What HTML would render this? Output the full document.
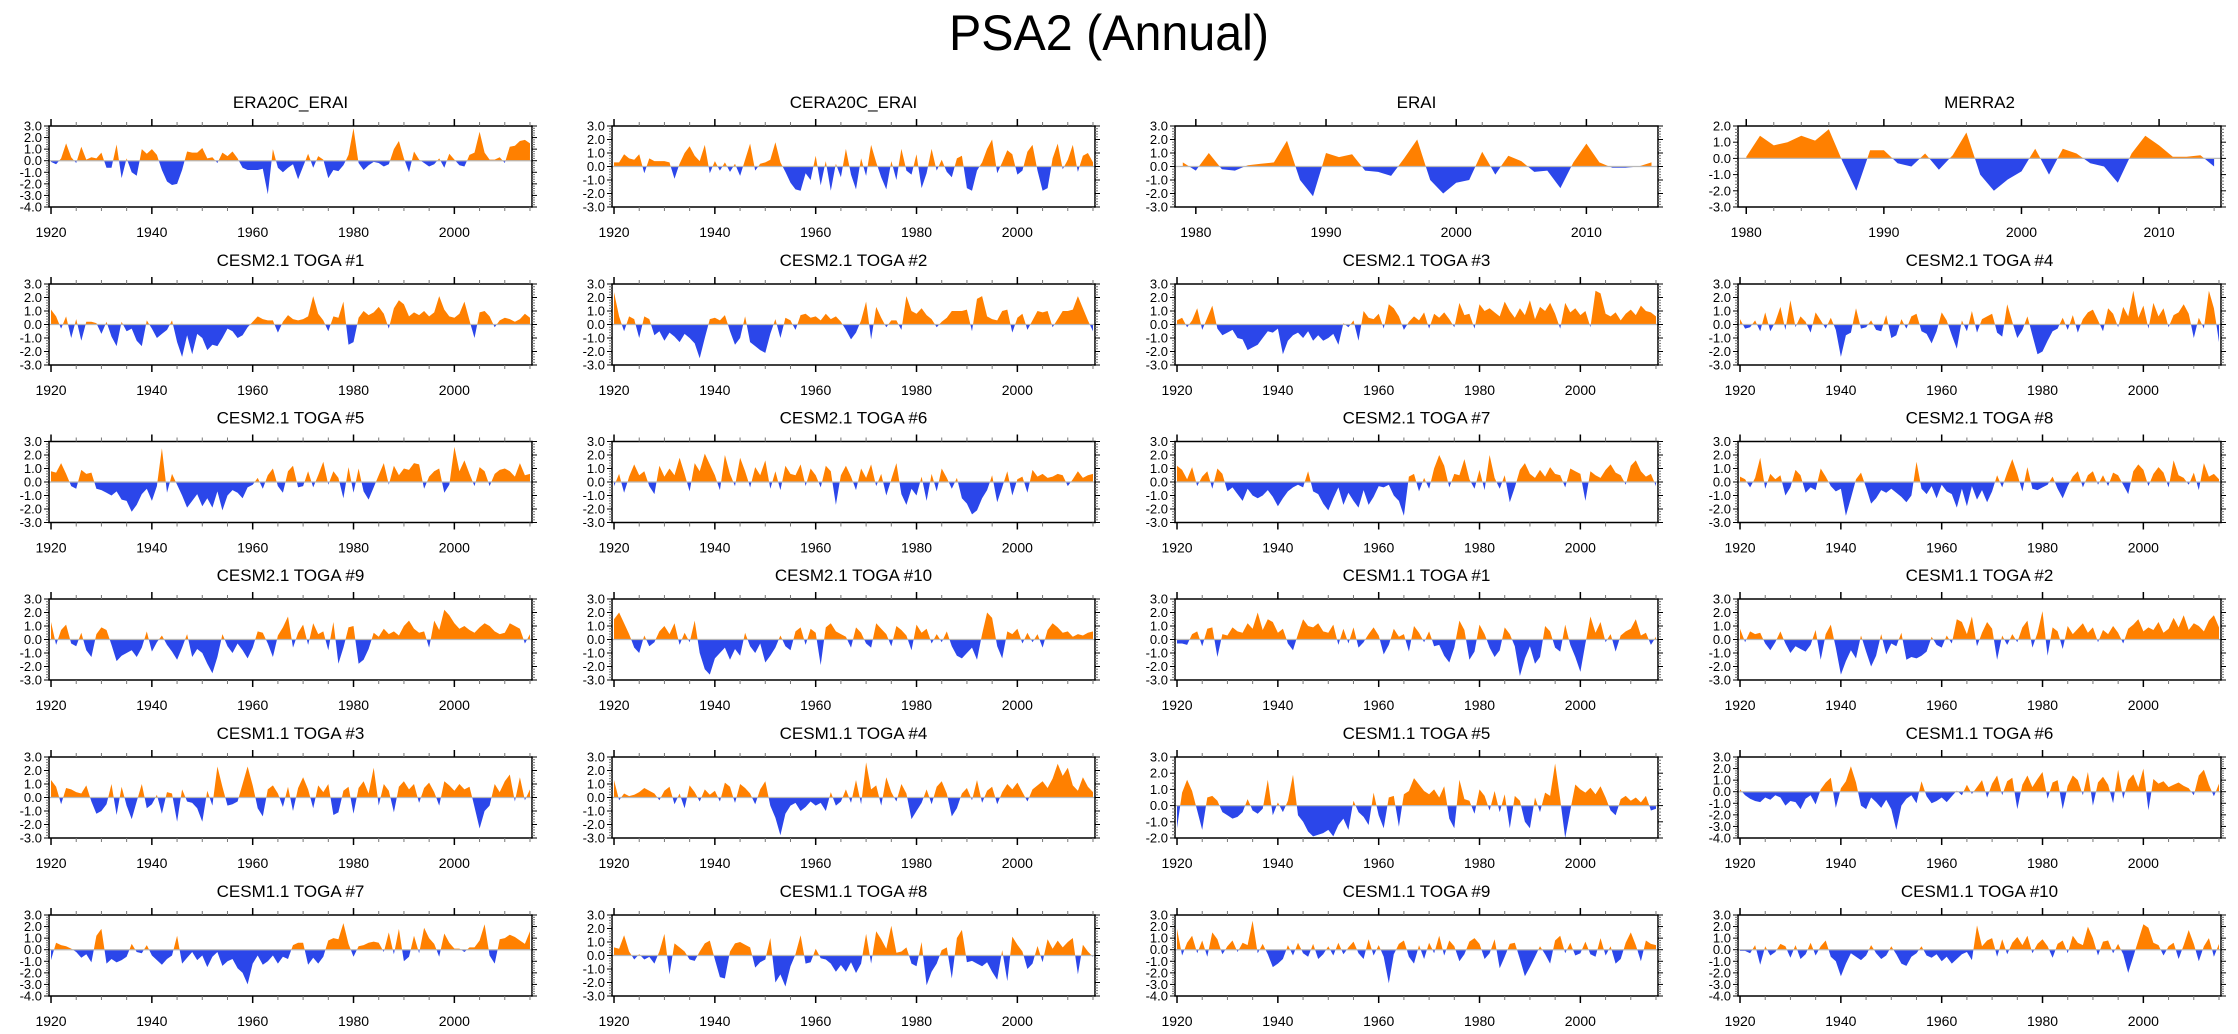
<!DOCTYPE html>
<html><head><meta charset="utf-8"><title>PSA2 (Annual)</title>
<style>
html,body{margin:0;padding:0;background:#fff;}
svg{display:block;font-family:"Liberation Sans",sans-serif;}
</style></head>
<body>
<svg id="chart" width="2238" height="1034" viewBox="0 0 2238 1034" xmlns="http://www.w3.org/2000/svg">
<text x="1109" y="50" font-size="50" text-anchor="middle" textLength="320" lengthAdjust="spacingAndGlyphs">PSA2 (Annual)</text>
</svg>
<script>
const titles = ["ERA20C_ERAI","CERA20C_ERAI","ERAI","MERRA2",
"CESM2.1 TOGA #1","CESM2.1 TOGA #2","CESM2.1 TOGA #3","CESM2.1 TOGA #4",
"CESM2.1 TOGA #5","CESM2.1 TOGA #6","CESM2.1 TOGA #7","CESM2.1 TOGA #8",
"CESM2.1 TOGA #9","CESM2.1 TOGA #10","CESM1.1 TOGA #1","CESM1.1 TOGA #2",
"CESM1.1 TOGA #3","CESM1.1 TOGA #4","CESM1.1 TOGA #5","CESM1.1 TOGA #6",
"CESM1.1 TOGA #7","CESM1.1 TOGA #8","CESM1.1 TOGA #9","CESM1.1 TOGA #10"];
const startYears = [1920,1920,1979,1980, 1920,1920,1920,1920, 1920,1920,1920,1920, 1920,1920,1920,1920, 1920,1920,1920,1920, 1920,1920,1920,1920];
const yMins = [-4,-3,-3,-3, -3,-3,-3,-3, -3,-3,-3,-3, -3,-3,-3,-3, -3,-3,-2,-4, -4,-3,-4,-4];
const yMaxs = [3,3,3,2, 3,3,3,3, 3,3,3,3, 3,3,3,3, 3,3,3,3, 3,3,3,3];

const s0 = [-0.1,-0.3,0.2,1.5,0.3,-0.2,1.2,0.1,0.3,0.2, 0.7,-0.6,-0.6,1.4,-1.5,0.2,-1.0,-1.3,1.0,0.6, 1.0,0.5,-0.8,-1.8,-2.1,-2.0,-0.8,0.8,0.7,0.7, 1.1,0.2,0.3,-0.2,0.7,0.4,0.8,0.2,-0.6,-0.8, -0.8,-0.8,-0.7,-2.9,1.0,-0.6,-1.0,-0.6,-0.3,-1.6, -0.5,0.6,-0.6,0.4,0.1,-1.5,-0.8,-0.9,-0.4,0.5, 2.8,-0.2,-0.8,-0.4,-0.1,-0.2,-0.5,-0.3,1.0,1.7, 0.2,-1.0,0.8,0.1,-0.2,-0.5,-0.3,0.2,-0.6,0.6, 0.1,-0.4,-0.5,0.5,0.7,2.5,0.7,0.1,0.1,0.3, -0.2,1.2,1.3,1.7,1.8,1.5];
const s1 = [0.3,0.3,0.9,0.6,0.5,0.9,-0.5,0.6,0.4,0.4, 0.4,0.3,-0.9,0.2,1.0,1.5,0.8,0.4,1.6,-0.5, 0.4,-0.3,0.3,-0.4,0.2,-0.7,0.5,1.7,-0.3,0.2, 0.3,0.5,1.8,0.3,-0.4,-1.2,-1.7,-1.8,-0.5,-1.0, 0.8,-1.4,0.4,-1.8,0.2,-0.8,1.3,-0.6,-1.7,0.6, -0.7,1.6,0.3,-0.8,-1.7,0.4,-1.0,1.3,-0.3,-0.6, 0.9,-1.6,-0.5,1.3,-0.3,0.5,-0.4,-0.8,0.6,0.8, -1.6,-1.8,-0.3,0.3,1.3,2.0,-0.5,0.3,1.2,0.9, -0.6,-0.3,1.1,1.6,-0.3,-1.8,-1.6,0.6,1.7,-0.2, 0.5,1.6,-0.4,0.8,1.0,0.3];
const s2 = [0.3,-0.3,1.0,-0.2,-0.3,0.1,0.2,0.3,1.9,-1.0, -2.2,1.0,0.7,0.9,-0.3,-0.4,-0.7,0.6,2.0,-1.0, -2.0,-1.2,-1.0,1.1,-0.6,0.8,0.4,-0.4,-0.3,-1.6, 0.3,1.7,0.3,-0.1,-0.1,0.0,0.3];
const s3 = [0.1,1.4,0.8,1.0,1.4,1.1,1.8,-0.2,-2.0,0.5, 0.5,-0.3,-0.5,0.3,-0.7,0.2,1.6,-1.0,-2.0,-1.3, -0.8,0.6,-1.0,0.6,0.3,-0.3,-0.5,-1.5,0.3,1.4, 0.8,0.1,0.1,0.2,-0.5];
const s4 = [1.1,0.6,-0.3,0.6,-1.0,0.4,-1.2,0.2,0.2,0.1, -0.7,0.2,-0.9,-1.6,0.2,-0.5,-0.3,-1.2,-1.6,0.3, -0.3,-1.0,-0.7,-0.4,0.3,-1.3,-2.4,-0.8,-2.2,-0.7, -1.0,-1.9,-1.5,-1.6,-1.0,-0.3,-0.5,-1.0,-0.8,-0.2, 0.2,0.6,0.4,0.3,0.3,-0.6,0.2,0.7,0.4,0.3, 0.4,0.6,2.1,0.8,0.3,-0.5,0.6,0.5,1.7,-1.5, -1.3,0.5,1.0,0.7,0.9,1.3,0.8,-0.3,1.2,1.8, 1.5,0.6,0.9,0.7,1.0,0.6,0.9,2.1,1.1,0.6, 0.5,0.8,1.7,0.3,-1.0,0.9,1.0,0.6,-0.2,0.3, 0.5,0.4,0.2,0.4,0.8,0.5];
const s5 = [2.4,0.6,-0.5,0.6,0.4,-1.0,0.6,0.4,-0.8,-0.5, -1.2,-0.6,-0.9,-1.3,-0.7,-1.0,-1.4,-2.5,-1.0,0.4, 0.5,0.3,0.7,-0.5,-1.5,-1.0,0.6,-1.3,-1.6,-1.9, -2.1,-0.7,0.4,-1.0,0.5,0.3,-0.4,0.7,0.8,0.5, 0.6,0.3,0.8,0.4,0.6,0.2,-0.4,-1.1,-0.6,0.3, 1.7,-1.1,1.3,0.5,-0.2,0.3,0.3,-0.4,2.1,1.0, 0.8,1.2,0.7,0.4,-0.2,0.2,0.5,1.0,1.0,1.0, 1.1,-0.5,1.9,2.1,0.6,0.4,0.3,1.0,1.1,-0.6, 0.5,0.8,-0.4,0.3,1.0,0.9,1.0,-0.2,0.4,1.0, 1.0,1.1,2.1,1.2,0.3,-0.5];
const s6 = [0.3,0.5,-0.2,0.3,1.2,-0.4,0.5,1.4,-0.3,-0.8, -0.6,-0.4,-1.0,-1.1,-1.9,-1.7,-1.5,-1.0,-0.5,-0.6, -0.3,-2.2,-1.2,-0.8,-0.6,-1.0,-0.5,-1.2,-0.8,-1.2, -1.0,-0.7,-1.5,0.1,-0.2,0.3,-1.2,1.0,0.5,0.4, 0.8,-0.3,1.5,1.2,0.6,-0.4,0.2,0.6,0.3,0.9, -0.3,0.8,0.5,0.9,0.4,-0.2,1.6,0.7,0.8,-0.3, 1.5,1.0,1.2,0.9,0.6,1.7,1.0,0.5,1.2,0.7, 1.8,0.4,1.3,1.0,1.6,0.8,-0.3,1.6,0.9,1.2, 0.7,1.0,-0.2,2.5,2.3,0.8,0.6,0.9,0.3,0.8, 1.1,0.7,1.4,1.0,0.9,0.6];
const s7 = [0.4,-0.3,-0.2,0.3,-0.5,0.9,-0.5,0.2,1.3,-0.4, 1.8,-0.2,0.6,0.2,-0.6,0.9,0.3,-0.3,0.5,-0.4, -2.4,-0.8,-0.6,1.2,-0.3,-0.2,0.3,-0.4,-0.5,0.7, -1.0,-0.8,0.4,-0.3,0.6,0.8,-0.5,-0.7,-1.4,-0.5, 0.9,0.3,-0.8,-1.8,0.3,-0.5,1.0,-0.6,0.4,0.6, 0.8,-0.6,-0.9,1.5,0.2,-1.0,-0.4,0.6,-0.8,-2.2, -2.0,-1.2,-0.5,-0.3,0.5,-0.4,0.7,-0.6,0.4,0.9, 1.1,0.3,-0.5,1.2,0.8,-0.2,1.3,0.6,2.5,0.5, 1.4,-0.3,1.6,0.6,1.2,-0.2,0.7,0.9,1.5,0.8, -1.0,0.5,-0.3,2.5,1.2,-1.3];
const s8 = [0.8,0.7,1.4,0.6,-0.3,-0.5,0.9,0.6,0.7,-0.5, -0.6,-0.8,-1.0,-0.7,-1.3,-1.4,-2.2,-1.7,-0.9,-0.5, -1.4,-0.3,2.5,-0.8,0.6,-0.2,-1.0,-1.9,-1.4,-0.9, -1.8,-1.2,-1.9,-0.7,-2.1,-1.0,-0.6,-0.8,-1.2,-0.4, -0.2,0.3,-0.5,0.5,1.0,-0.3,-0.8,0.8,1.2,-0.4, -0.3,0.8,-0.4,0.5,1.5,-0.2,0.8,0.3,-1.2,1.1, -0.8,1.0,-0.7,-1.3,-0.4,0.5,1.4,-0.2,1.2,0.5, 1.0,0.9,1.4,1.3,-0.5,0.4,0.8,1.0,-0.8,-0.2, 2.6,0.8,1.6,0.6,-0.3,1.1,0.8,-0.3,0.6,0.9, 1.0,0.8,0.4,1.4,0.5,0.6];
const s9 = [-0.3,0.6,-0.8,0.4,1.3,0.5,0.8,-0.3,-0.9,1.2, 0.4,1.0,0.5,1.8,0.6,-0.7,1.4,0.8,2.1,1.3, 0.5,-0.6,2.0,0.6,-0.3,1.8,0.8,-0.4,1.1,0.5, 1.6,-0.5,0.8,-0.6,1.2,0.6,0.5,1.3,-0.3,1.0, 0.5,-0.4,1.2,0.8,-1.7,0.5,1.2,0.4,-0.6,1.0, 0.3,1.3,-0.3,0.6,-1.0,0.2,1.4,-0.9,-1.7,-0.5, -1.0,0.4,-1.4,0.6,-0.7,1.0,0.3,-0.5,0.3,-1.2, -1.6,-2.4,-2.1,-1.2,-0.6,0.5,-1.5,-0.4,0.8,-1.0, 0.2,0.4,-0.8,0.9,0.4,0.6,0.3,0.4,0.6,0.5, -0.3,0.2,0.8,0.3,0.5,0.6];
const s10 = [1.2,0.9,0.2,1.1,-0.3,0.4,0.8,-0.5,1.0,0.6, -0.7,-0.4,-0.9,-1.4,-0.5,-1.0,-1.2,-1.0,-0.6,-1.1, -1.8,-1.2,-0.7,-0.4,-0.2,-0.4,0.8,-0.7,-0.9,-1.6, -2.1,-1.2,-0.4,-1.7,-0.8,-1.4,-1.9,-0.6,-1.7,-1.1, -0.3,-0.4,-0.2,-1.0,-1.4,-2.5,0.4,0.6,-0.7,0.3, -0.5,1.0,2.0,1.2,-0.4,0.6,0.5,1.7,0.2,-0.5, 0.9,-0.6,2.0,0.3,-0.5,0.5,-1.5,-0.4,0.9,1.4, 0.6,0.3,0.9,0.4,1.1,0.6,0.5,-0.4,1.0,0.8, 0.6,-1.4,0.8,0.5,0.3,0.9,1.3,0.7,0.5,-0.2, 1.2,1.6,0.8,0.4,0.6,-0.3];
const s11 = [0.4,0.2,-0.4,0.3,1.8,-0.5,0.6,0.2,0.5,-1.0, -0.4,0.9,0.5,-0.8,-0.4,-0.6,1.0,0.4,-0.3,-0.7, -0.5,-2.5,-1.2,0.2,0.7,-0.4,-1.6,-1.2,-0.6,-0.8, -0.5,-0.8,-1.1,-1.5,-1.0,1.5,-0.5,-0.9,-0.3,-1.2, -0.2,-0.7,-0.9,-1.9,-0.5,-1.8,-0.3,-1.3,-0.6,-1.5, -0.7,0.5,-0.4,0.7,1.7,0.6,-0.7,1.1,-0.5,-0.6, -0.4,-0.2,0.4,-0.5,-1.2,-0.3,0.4,0.8,-0.4,0.5, 0.8,-0.2,0.5,-0.3,0.7,0.5,-0.2,-0.9,0.8,1.3, 0.9,-0.3,0.6,1.1,0.7,-0.4,1.6,0.5,0.3,-0.2, 0.7,-0.6,1.4,0.4,0.6,0.2];
const s12 = [1.3,-0.4,0.7,1.1,-0.3,-0.5,0.5,-0.8,-1.3,0.4, 0.9,0.7,-0.4,-1.6,-1.2,-1.0,-0.8,-1.3,-0.6,0.6, -0.9,-0.2,0.3,-0.4,-0.9,-1.5,-0.6,0.4,-1.3,-0.7, -1.0,-1.8,-2.5,-1.3,0.4,-0.5,-1.0,-0.3,-0.8,-1.4, -0.6,0.6,0.5,-0.3,-1.3,0.3,0.9,1.7,-0.6,0.5, 1.1,-0.4,1.2,0.4,0.6,-0.8,1.3,-1.8,-0.6,0.9, 1.0,-1.8,-1.5,-0.7,0.5,0.2,0.8,0.4,0.6,0.3, 1.0,1.4,0.8,0.5,0.6,-0.6,1.4,0.7,2.2,1.8, 1.2,0.8,1.0,0.7,0.5,0.9,1.2,1.0,0.6,0.4, 0.5,1.2,1.0,0.8,-0.3,0.4];
const s13 = [1.5,2.0,1.2,0.4,-0.6,-1.0,0.3,-0.5,-0.2,0.6, 1.0,0.4,1.2,-0.4,0.5,-0.2,1.4,-1.0,-2.2,-2.6, -1.4,-1.0,-0.6,-1.5,-0.7,-1.2,0.5,-0.5,-1.0,-0.3, -1.7,-1.2,-0.6,0.3,-0.5,-0.8,0.6,0.9,-0.4,0.8, 0.5,-1.9,0.9,1.2,0.6,0.4,0.2,-0.6,0.9,0.5, -0.3,-0.6,1.2,0.8,0.4,-0.5,1.0,0.7,0.3,-0.8, 1.1,0.5,0.8,-0.3,0.4,-0.2,0.6,-0.5,-1.2,-1.4, -1.0,-0.6,-1.5,0.4,2.0,1.6,-0.5,-1.4,0.6,0.4, 0.8,-0.3,0.5,-0.2,0.4,-0.6,0.7,1.2,0.9,0.5, 0.6,0.2,0.4,0.3,0.5,0.6];
const s14 = [-0.3,-0.3,-0.4,0.4,0.6,-0.5,0.8,0.9,-1.3,0.4, 0.3,0.9,0.6,0.5,1.2,0.8,2.0,0.7,1.5,1.3, 0.5,0.8,-0.3,-0.8,0.4,1.5,1.0,0.9,1.2,0.6, 0.5,1.1,-0.4,0.8,-0.3,0.9,-0.6,-0.2,0.4,0.9, 0.3,-1.1,-0.4,0.8,0.2,0.4,-0.9,1.0,0.5,-0.2, 0.6,-0.5,-0.4,-1.2,-1.7,-0.6,1.4,0.7,-1.5,-0.9, 1.1,0.4,-0.6,-1.3,-0.8,0.9,0.4,-0.5,-2.7,-1.4, -0.5,-1.8,-1.3,1.0,0.6,-0.6,-0.9,1.1,-0.4,-1.3, -2.4,-0.3,1.7,0.5,1.3,-0.2,0.4,-0.9,0.3,0.6, 0.8,1.5,0.3,0.5,-0.4,0.2];
const s15 = [0.8,-0.2,0.6,0.4,0.5,-0.3,-0.8,-0.2,0.6,-0.3, -1.0,-0.5,-0.7,-0.9,-0.4,0.7,-1.5,0.4,1.1,-0.6, -2.6,-1.6,-0.8,-1.4,0.3,-0.9,-2.0,-1.2,0.4,-1.1, -0.3,-0.5,0.5,-1.5,-1.3,-1.4,-1.2,-0.9,0.2,-0.4, -0.6,0.3,-0.3,1.5,1.3,0.4,1.7,-0.5,0.5,1.3, 0.8,-1.5,0.3,-0.4,0.4,-0.2,0.9,1.4,-0.6,0.5, 2.1,-1.2,0.9,0.6,-0.7,1.0,0.4,0.8,1.2,0.5, 0.9,-0.2,0.7,0.4,1.0,0.5,-0.3,0.8,1.1,1.5, 0.6,0.9,0.7,1.3,0.5,0.8,1.6,0.9,1.8,0.7, 1.2,1.0,0.6,1.4,1.8,0.9];
const s16 = [1.3,0.8,-0.5,0.7,0.6,0.4,0.3,0.9,-0.3,-1.2, -1.0,-0.5,1.0,-1.3,0.8,-0.6,-1.6,-0.3,1.0,-0.8, -0.5,0.2,-1.2,0.4,0.3,-1.8,0.6,-0.3,-0.4,-0.8, -1.8,0.5,-0.6,2.3,0.8,-0.6,-0.5,-0.3,1.0,2.3, 0.9,-0.8,-1.4,0.6,0.9,0.3,-0.7,0.8,-1.0,0.7, 1.5,0.6,-0.8,0.9,0.4,1.0,-1.3,-1.1,0.5,0.8, -1.2,0.7,1.2,0.3,2.2,-0.6,1.0,0.5,-1.1,0.8, 1.2,0.6,1.0,-0.4,0.7,1.1,0.4,-0.6,1.2,0.9, 0.5,1.0,0.6,0.8,-0.7,-2.3,-1.0,-0.6,1.0,0.4, 1.2,1.7,-0.3,1.5,-0.2,0.6];
const s17 = [1.3,-0.2,0.3,0.1,0.2,0.4,0.7,0.5,0.3,-0.2, 0.5,0.8,-0.5,0.3,-0.8,0.9,0.4,-0.3,0.6,0.2, 0.5,-0.3,1.1,0.8,-0.4,1.0,0.7,0.3,-0.5,0.6, 1.2,-0.6,-1.5,-2.8,-1.2,-0.6,-0.4,-1.0,-0.7,-0.3, -0.6,-0.4,-1.0,0.4,-0.6,-0.3,0.6,-0.4,1.3,-0.5, 2.6,0.6,0.9,-0.6,1.5,0.4,-0.3,1.0,0.3,-1.6, -1.0,-0.4,0.6,-0.5,0.8,1.2,0.3,-1.4,-0.8,0.3, 0.7,-0.2,1.3,-0.4,0.5,0.8,-0.5,0.4,1.0,0.6, 1.1,0.4,-0.3,0.6,0.9,1.2,0.7,1.4,2.5,1.6, 2.2,0.9,0.5,1.5,0.8,0.4];
const s18 = [-1.4,0.8,1.6,0.9,-0.3,-1.5,0.5,0.6,0.3,-0.4, -0.6,-0.8,-0.7,-0.4,0.4,-0.3,-0.5,-0.2,1.6,-0.6, 0.2,-0.4,0.3,1.9,-0.6,-1.0,-1.6,-1.9,-1.8,-1.7, -1.5,-1.9,-1.2,-0.8,-1.5,0.3,-0.4,-0.7,-1.2,0.8, -0.6,-1.4,0.5,0.6,-1.3,0.7,0.9,1.7,1.3,0.9, 0.7,1.0,0.5,1.2,-0.8,-1.4,1.6,0.4,0.3,-0.5, 1.0,0.6,-0.3,0.9,-0.4,0.7,-1.4,0.6,0.3,-1.0, -1.4,0.5,-0.4,0.8,0.6,2.6,0.4,-2.0,-0.3,1.3, 1.0,0.8,1.1,0.7,1.2,0.5,-0.3,-0.6,0.4,0.6, 0.3,0.5,0.2,0.6,-0.3,-0.2];
const s19 = [0.2,-0.3,-0.6,-0.8,-0.9,-0.5,-0.7,-0.3,-0.5,-1.2, -0.8,-0.9,-1.5,-0.6,-0.3,-1.1,0.2,0.8,1.2,-1.4, 0.3,0.9,2.2,0.8,-1.2,-1.5,-0.5,-0.9,-1.4,-0.7, -1.5,-3.3,-1.2,-0.6,-0.3,-1.0,0.9,-0.4,-1.0,-0.8, -0.5,-0.9,-0.4,0.1,-0.3,0.6,-0.2,0.4,1.0,-0.5, 0.7,1.4,-0.3,0.9,1.2,-1.5,0.6,1.4,0.4,1.1, 1.7,-0.6,0.8,1.0,-1.5,0.5,1.4,1.0,-0.3,1.7, -1.2,0.8,1.3,0.6,-1.0,1.9,-0.6,1.0,1.5,0.4, 2.0,-1.6,1.1,0.7,0.9,0.4,0.6,0.8,0.5,0.3, -0.3,1.4,1.9,0.6,-0.4,0.7];
const s20 = [-0.9,0.6,0.4,0.3,0.1,-0.2,-0.7,-0.4,-1.1,1.2, 1.8,-1.2,-0.8,-1.1,-0.9,-0.6,0.5,-0.2,-0.3,0.4, -0.5,-0.9,-1.3,-0.8,-0.5,1.2,-1.2,-0.7,-0.2,-0.9, -0.5,-1.5,-0.6,-0.2,-1.4,-1.0,-0.8,-1.6,-2.0,-3.0, -1.2,-0.5,-1.3,-1.0,-0.5,-1.2,-0.6,-0.8,0.4,0.6, 0.6,-1.3,-0.7,-1.2,-0.6,0.8,1.0,0.9,2.3,0.5, -0.6,0.3,0.4,0.6,0.7,0.6,-0.2,1.5,-0.4,1.8, -1.0,-0.6,1.2,-0.3,1.9,1.0,0.5,-0.6,1.4,0.6, 0.1,0.1,-0.2,0.2,0.2,0.8,2.2,-0.5,-1.2,0.9, 1.0,1.3,1.1,0.8,0.5,1.6];
const s21 = [0.6,0.5,1.5,0.3,-0.3,0.1,-0.3,-0.1,-0.6,0.3, 1.6,-1.4,0.9,0.6,0.3,-0.3,-0.4,0.3,0.9,1.1, -0.3,-1.6,-1.7,0.3,0.9,1.0,0.8,0.6,-0.9,-0.5, -0.3,1.3,-2.0,-1.4,-2.3,-0.8,0.1,1.5,-0.6,-0.5, 0.5,-0.2,-0.3,-0.6,-1.2,-0.7,-1.2,-0.5,-1.3,-0.6, 1.6,-0.6,1.8,1.2,0.5,2.2,0.2,0.3,0.6,-0.6, -0.8,1.0,-2.2,-1.2,-0.6,0.4,0.6,-1.7,1.3,1.9, -0.5,-0.4,-0.6,-0.8,-0.5,-1.2,-1.8,0.4,-1.9,1.4, 0.8,0.3,-1.0,-0.6,0.7,-0.5,1.2,0.5,1.1,0.6, 1.0,1.3,-1.4,0.8,0.3,-0.1];
const s22 = [1.8,-0.5,0.6,1.2,-0.3,0.8,-0.6,1.5,0.9,-0.4, 0.3,0.8,-0.2,0.6,0.4,2.5,-0.3,0.5,-0.4,-1.5, -1.2,-0.8,0.4,-0.5,0.6,-0.3,-0.6,0.5,-0.8,-0.4, 0.3,-0.5,0.6,-0.4,0.2,0.7,-0.3,-0.8,0.9,-0.5, 0.4,-0.6,-2.9,-0.4,0.5,0.8,-0.6,-1.2,0.4,-0.8, 0.6,-0.3,1.2,-0.5,0.8,0.3,-1.0,-0.4,0.7,1.0, 0.5,-0.8,-0.3,0.9,-1.6,-0.6,0.5,0.6,-0.8,-2.3, -1.5,-0.6,0.3,-0.4,-1.2,0.8,1.2,-0.3,0.6,-0.5, -0.3,0.7,-0.4,-0.6,1.0,-0.5,0.3,-1.2,-0.8,0.6, 1.5,0.4,-1.0,0.8,0.5,0.4];
const s23 = [-0.1,-0.1,-0.3,0.4,-1.3,0.3,-0.5,-0.2,0.5,0.3, -0.7,0.4,-0.8,-0.4,0.6,-0.5,0.3,0.8,-0.6,-1.0, -2.3,-1.2,-0.3,-0.6,-0.9,-0.5,0.4,-0.3,-0.8,-0.5, 0.3,-0.4,-1.2,-1.4,-0.6,-0.3,0.3,-0.5,-0.7,-0.4, -1.0,-0.6,-1.2,-0.8,-0.4,-0.2,-0.9,2.1,0.3,0.8, 1.0,-0.6,0.9,-0.4,0.6,1.1,0.4,1.2,-0.3,0.5, 0.9,0.3,-0.7,0.5,0.8,-0.3,1.2,0.6,0.4,2.0, 1.0,-0.5,0.7,0.8,-0.3,0.5,-0.4,-2.0,-0.6,0.8, 2.2,1.9,0.6,0.4,-0.5,0.3,0.6,-0.8,0.4,1.7, 0.5,-1.0,0.3,1.0,-0.6,0.5];
const series = [s0,s1,s2,s3,s4,s5,s6,s7,s8,s9,s10,s11,s12,s13,s14,s15,s16,s17,s18,s19,s20,s21,s22,s23];

const NS = "http://www.w3.org/2000/svg";
const svg = document.getElementById('chart');
const colLeft = [49, 612, 1175, 1738];
const rowTop = [126, 284, 441.5, 599, 757, 915];
const PW = 483, PH = 81;
const ORANGE = "#ff8000", BLUE = "#2b46ea";

function mk(tag, attrs, parent) {
  const el = document.createElementNS(NS, tag);
  for (const k in attrs) el.setAttribute(k, attrs[k]);
  (parent || svg).appendChild(el);
  return el;
}

series.forEach((vals, i) => {
  const x0 = colLeft[i % 4], y0 = rowTop[Math.floor(i / 4)];
  const start = startYears[i], end = start + vals.length - 1;
  const long = (end - start) > 60;
  const xMin = long ? 1919.6 : start - 0.6, xMax = long ? 2015.4 : end + 0.5;
  const ymin = yMins[i], ymax = yMaxs[i];
  const X = yr => x0 + (yr - xMin) / (xMax - xMin) * PW;
  const Y = v => y0 + (ymax - v) / (ymax - ymin) * PH;
  const g = mk('g', {});
  
  

  const t = mk('text', {x: x0 + PW / 2, y: y0 - 18, 'font-size': 17, 'text-anchor': 'middle'}, g);
  t.textContent = titles[i];
  
  

  const zy = Y(0);
  const pts = vals.map((v, k) => [start + k, v]);
  const pos = [], neg = [];
  for (let k = 0; k < pts.length; k++) {
    const [a, va] = pts[k];
    pos.push([a, Math.max(va, 0)]); neg.push([a, Math.min(va, 0)]);
    if (k < pts.length - 1) {
      const [b, vb] = pts[k + 1];
      if (va * vb < 0) {
        const c = a + va / (va - vb) * (b - a);
        pos.push([c, 0]); neg.push([c, 0]);
      }
    }
  }
  [[pos, ORANGE, 'positive-fill'], [neg, BLUE, 'negative-fill']].forEach(([arr, col, nm]) => {
    let d = 'M' + X(arr[0][0]) + ',' + zy;
    arr.forEach(p => { d += 'L' + X(p[0]).toFixed(1) + ',' + Y(p[1]).toFixed(1); });
    d += 'L' + X(arr[arr.length - 1][0]) + ',' + zy + 'Z';
    const p = mk('path', {d: d, fill: col, stroke: 'none'}, g);
    
    
  });
  const zl = mk('line', {x1: x0, x2: x0 + PW, y1: zy, y2: zy, stroke: '#b8b8b8', 'stroke-width': 1.2}, g);
  
  

  const fr = mk('rect', {x: x0, y: y0, width: PW, height: PH, fill: 'none', stroke: '#000', 'stroke-width': 1.5}, g);
  
  

  const majStep = long ? 20 : 10, minStep = long ? 5 : 2;
  const firstMinor = Math.ceil(xMin / minStep) * minStep;
  for (let yr = firstMinor; yr <= xMax; yr += minStep) {
    const major = yr % majStep === 0;
    const L = major ? 7 : 4;
    const xx = X(yr);
    mk('line', {x1: xx, x2: xx, y1: y0, y2: y0 - L, stroke: major ? '#000' : '#777', 'stroke-width': major ? 1.5 : 1}, g);
    mk('line', {x1: xx, x2: xx, y1: y0 + PH, y2: y0 + PH + L, stroke: major ? '#000' : '#777', 'stroke-width': major ? 1.5 : 1}, g);
    if (major) {
      const lb = mk('text', {x: xx, y: y0 + PH + 30, 'font-size': 14, 'text-anchor': 'middle'}, g);
      lb.textContent = yr;
      
      
    }
  }
  for (let v10 = ymin * 10; v10 <= ymax * 10; v10 += 2) {
    const v = v10 / 10, major = v10 % 10 === 0;
    const yy = Y(v), L = major ? 5 : 3;
    mk('line', {x1: x0, x2: x0 - L, y1: yy, y2: yy, stroke: major ? '#000' : '#777', 'stroke-width': 1}, g);
    mk('line', {x1: x0 + PW, x2: x0 + PW + L, y1: yy, y2: yy, stroke: major ? '#000' : '#777', 'stroke-width': 1}, g);
    if (major) {
      const lb = mk('text', {x: x0 - 7, y: yy + 4.5, 'font-size': 13, 'text-anchor': 'end'}, g);
      lb.textContent = v.toFixed(1);
      
      
    }
  }
});
</script>
</body></html>
